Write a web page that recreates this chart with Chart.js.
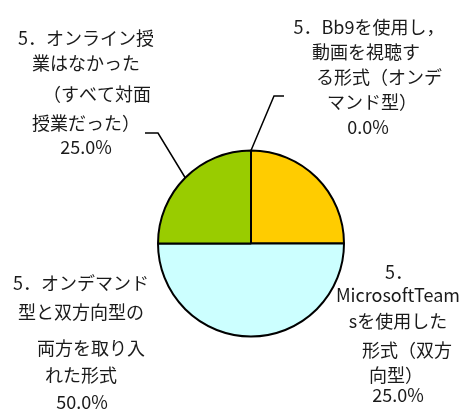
<!DOCTYPE html>
<html>
<head>
<meta charset="utf-8">
<script src="https://cdn.jsdelivr.net/npm/chart.js@4"></script>
<style>
  html, body { margin: 0; padding: 0; background: #fff; }
  #wrap { width: 462px; height: 419px; }
</style>
</head>
<body>
<div id="wrap"><canvas id="pie" width="462" height="419"></canvas></div>
<script>
// categories (clockwise from 12 o'clock)
const categories = [
  '5．Bb9を使用し，動画を視聴する形式（オンデマンド型）',
  '5．MicrosoftTeamsを使用した形式（双方向型）',
  '5．オンデマンド型と双方向型の両方を取り入れた形式',
  '5．オンライン授業はなかった（すべて対面授業だった）'
];
const values = [0, 25, 50, 25];
const colors = ['#9999FF', '#FFCC00', '#CCFFFF', '#99CC00'];

// wrapped label text, as it is broken in the picture
const labelLines = [
  ['5．Bb9を使用し，', '動画を視聴す', 'る形式（オンデ', 'マンド型）'],
  ['5．', 'MicrosoftTeam', 'sを使用した', '形式（双方', '向型）'],
  ['5．オンデマンド', '型と双方向型の', '両方を取り入', 'れた形式'],
  ['5．オンライン授', '業はなかった', '（すべて対面', '授業だった）']
];

// layout of the data labels (line centre x, baseline-middle y)
const labelLayout = [
  { x: [369, 366, 379, 372, 368], y: [27, 52, 77, 102, 127] },
  { x: [399, 398, 398, 407, 396, 398], y: [272, 295, 321, 350, 375, 395] },
  { x: [81, 81, 91, 81, 82], y: [283, 312, 348, 375, 402] },
  { x: [86, 86, 97, 86, 86], y: [38, 63, 94, 123, 147] }
];
// leader lines: elbow and end point, for slices that have one
const leaders = {
  0: { elbow: [274, 96], end: [284, 96] },
  3: { elbow: [158, 133], end: [145, 133] }
};

const labelPlugin = {
  id: 'sliceLabels',
  afterDatasetsDraw(chart) {
    const ctx = chart.ctx;
    const meta = chart.getDatasetMeta(0);
    ctx.save();

    // leader lines
    ctx.strokeStyle = '#000';
    ctx.lineWidth = 1.5;
    Object.keys(leaders).forEach(k => {
      const arc = meta.data[k];
      const mid = (arc.startAngle + arc.endAngle) / 2;
      const sx = arc.x + Math.cos(mid) * arc.outerRadius;
      const sy = arc.y + Math.sin(mid) * arc.outerRadius;
      const ld = leaders[k];
      ctx.beginPath();
      ctx.moveTo(sx, sy);
      ctx.lineTo(ld.elbow[0], ld.elbow[1]);
      ctx.lineTo(ld.end[0], ld.end[1]);
      ctx.stroke();
    });

    // text
    ctx.fillStyle = '#1a1a1a';
    ctx.font = '18px "Noto Sans CJK JP", "Noto Sans", sans-serif';
    ctx.textAlign = 'center';
    ctx.textBaseline = 'middle';
    labelLines.forEach((lines, i) => {
      const all = lines.concat([values[i].toFixed(1) + '%']);
      const lay = labelLayout[i];
      all.forEach((t, j) => ctx.fillText(t, lay.x[j], lay.y[j]));
    });
    ctx.restore();
  }
};

new Chart(document.getElementById('pie'), {
  type: 'pie',
  data: {
    labels: categories,
    datasets: [{
      data: values,
      backgroundColor: colors,
      borderColor: '#000',
      borderWidth: 2
    }]
  },
  options: {
    responsive: false,
    animation: false,
    layout: { padding: { left: 157, right: 117, top: 149.5, bottom: 81.5 } },
    plugins: {
      legend: { display: false },
      tooltip: { enabled: false }
    }
  },
  plugins: [labelPlugin]
});
</script>
</body>
</html>
